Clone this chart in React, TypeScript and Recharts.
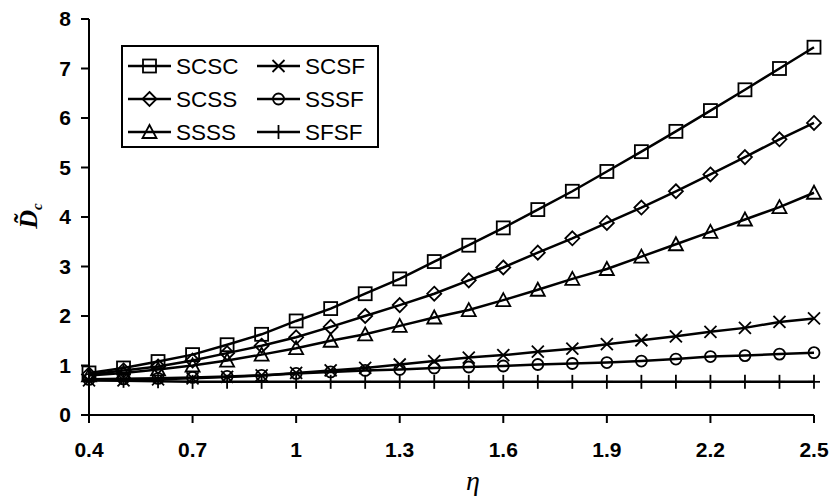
import React from "react"
import { LineChart, Line, XAxis, YAxis } from "recharts"

const eta = [0.4, 0.5, 0.6, 0.7, 0.8, 0.9, 1.0, 1.1, 1.2, 1.3, 1.4, 1.5, 1.6, 1.7, 1.8, 1.9, 2.0, 2.1, 2.2, 2.3, 2.4, 2.5]

const scsc = [0.85, 0.95, 1.08, 1.22, 1.42, 1.63, 1.9, 2.15, 2.45, 2.75, 3.1, 3.43, 3.78, 4.15, 4.52, 4.92, 5.32, 5.73, 6.15, 6.57, 7.0, 7.43]
const scss = [0.82, 0.9, 0.98, 1.1, 1.25, 1.4, 1.57, 1.78, 2.0, 2.22, 2.45, 2.72, 2.98, 3.28, 3.57, 3.88, 4.19, 4.52, 4.86, 5.21, 5.57, 5.9]
const ssss = [0.8, 0.85, 0.92, 1.0, 1.1, 1.22, 1.35, 1.5, 1.63, 1.8, 1.97, 2.12, 2.32, 2.53, 2.75, 2.95, 3.2, 3.45, 3.7, 3.95, 4.2, 4.49]
const scsf = [0.7, 0.7, 0.72, 0.74, 0.77, 0.8, 0.85, 0.9, 0.95, 1.02, 1.09, 1.16, 1.21, 1.28, 1.34, 1.43, 1.51, 1.59, 1.68, 1.76, 1.88, 1.95]
const sssf = [0.72, 0.73, 0.74, 0.76, 0.78, 0.8, 0.84, 0.87, 0.9, 0.92, 0.95, 0.97, 0.99, 1.02, 1.04, 1.06, 1.09, 1.13, 1.18, 1.2, 1.23, 1.26]
const sfsf = [0.7, 0.69, 0.68, 0.67, 0.67, 0.67, 0.67, 0.67, 0.67, 0.67, 0.67, 0.67, 0.67, 0.67, 0.67, 0.67, 0.67, 0.67, 0.67, 0.67, 0.67, 0.67]

const xTicks = [0.4, 0.7, 1, 1.3, 1.6, 1.9, 2.2, 2.5]
const yTicks = [0, 1, 2, 3, 4, 5, 6, 7, 8]

const series = [
  { key: "SCSC", values: scsc, shape: "square" },
  { key: "SCSS", values: scss, shape: "diamond" },
  { key: "SSSS", values: ssss, shape: "triangle" },
  { key: "SCSF", values: scsf, shape: "cross" },
  { key: "SSSF", values: sssf, shape: "circle" },
  { key: "SFSF", values: sfsf, shape: "plus" },
]

const data = eta.map((x, i) => {
  const row: any = { eta: x }
  series.forEach((s) => (row[s.key] = s.values[i]))
  return row
})

function Marker({ shape, cx, cy }: { shape: string; cx: number; cy: number }) {
  const st = { stroke: "#000", strokeWidth: 1.8, fill: "none" }
  if (shape === "square") return <rect x={cx - 6.5} y={cy - 6.5} width={13} height={13} {...st} />
  if (shape === "diamond")
    return <polygon points={`${cx},${cy - 7} ${cx + 7},${cy} ${cx},${cy + 7} ${cx - 7},${cy}`} {...st} />
  if (shape === "triangle")
    return <polygon points={`${cx},${cy - 7} ${cx + 7},${cy + 6} ${cx - 7},${cy + 6}`} {...st} />
  if (shape === "cross")
    return (
      <g {...st}>
        <line x1={cx - 6} y1={cy - 6} x2={cx + 6} y2={cy + 6} />
        <line x1={cx - 6} y1={cy + 6} x2={cx + 6} y2={cy - 6} />
      </g>
    )
  if (shape === "circle") return <circle cx={cx} cy={cy} r={5.5} {...st} />
  return (
    <g {...st}>
      <line x1={cx} y1={cy - 7} x2={cx} y2={cy + 7} />
      <line x1={cx - 6} y1={cy} x2={cx + 6} y2={cy} />
    </g>
  )
}

// legend box drawn over the plot, two columns of three
function LegendBox({ left, top }: { left: number; top: number }) {
  const rows = [21, 54, 87]
  return (
    <g transform={`translate(${left},${top})`}>
      <rect x={1} y={1} width={256} height={101} fill="#fff" stroke="#000" strokeWidth={2} />
      {series.map((s, i) => {
        const col = Math.floor(i / 3)
        const y = rows[i % 3]
        const x0 = col === 0 ? 7 : 136
        return (
          <g key={s.key}>
            <line x1={x0} y1={y} x2={x0 + 43} y2={y} stroke="#000" strokeWidth={2.5} />
            <Marker shape={s.shape} cx={x0 + 21.5} cy={y} />
            <text x={x0 + 48} y={y + 8} fontFamily="Liberation Sans, Arial" fontSize={22.5} fill="#000">
              {s.key}
            </text>
          </g>
        )
      })}
    </g>
  )
}

const tickStyle = { fontFamily: "Liberation Sans, Arial", fontWeight: "bold", fontSize: 21, fill: "#000" }

export default function App() {
  return (
    <div style={{ position: "absolute", left: 0, top: 0, width: 830, height: 500, background: "#fff" }}>
      <LineChart width={830} height={500} data={data} margin={{ top: 19, right: 16, bottom: 55, left: 29 }}>
        <XAxis
          dataKey="eta"
          type="number"
          domain={[0.4, 2.5]}
          ticks={xTicks}
          tickFormatter={(v: number) => String(+v.toFixed(1))}
          tick={tickStyle}
          tickSize={8}
          tickMargin={19}
          height={30}
          axisLine={{ stroke: "#000", strokeWidth: 2 }}
          tickLine={{ stroke: "#000", strokeWidth: 2 }}
        />
        <YAxis
          type="number"
          domain={[0, 8]}
          ticks={yTicks}
          tick={tickStyle}
          tickSize={8}
          tickMargin={10}
          width={60}
          axisLine={{ stroke: "#000", strokeWidth: 2 }}
          tickLine={{ stroke: "#000", strokeWidth: 2 }}
        />
        {series.map((s) => (
          <Line
            key={s.key}
            dataKey={s.key}
            type="linear"
            stroke="#000"
            strokeWidth={2.5}
            isAnimationActive={false}
            dot={(p: any) => <Marker key={`${s.key}-${p.index}`} shape={s.shape} cx={p.cx} cy={p.cy} />}
          />
        ))}
      </LineChart>
      <svg width={830} height={500} style={{ position: "absolute", left: 0, top: 0, pointerEvents: "none" }}>
        <LegendBox left={121} top={45} />
        <text
          transform="translate(37,216) rotate(-90)"
          textAnchor="middle"
          fontFamily="Liberation Serif, Times New Roman"
          fontStyle="italic"
          fontWeight="bold"
          fontSize={26}
          fill="#000"
        >
          D̃<tspan fontSize={15} dy={5}>c</tspan>
        </text>
        <text
          x={473}
          y={490}
          textAnchor="middle"
          fontFamily="Liberation Serif, Times New Roman"
          fontStyle="italic"
          fontSize={28}
          fill="#000"
        >
          η
        </text>
      </svg>
    </div>
  )
}
